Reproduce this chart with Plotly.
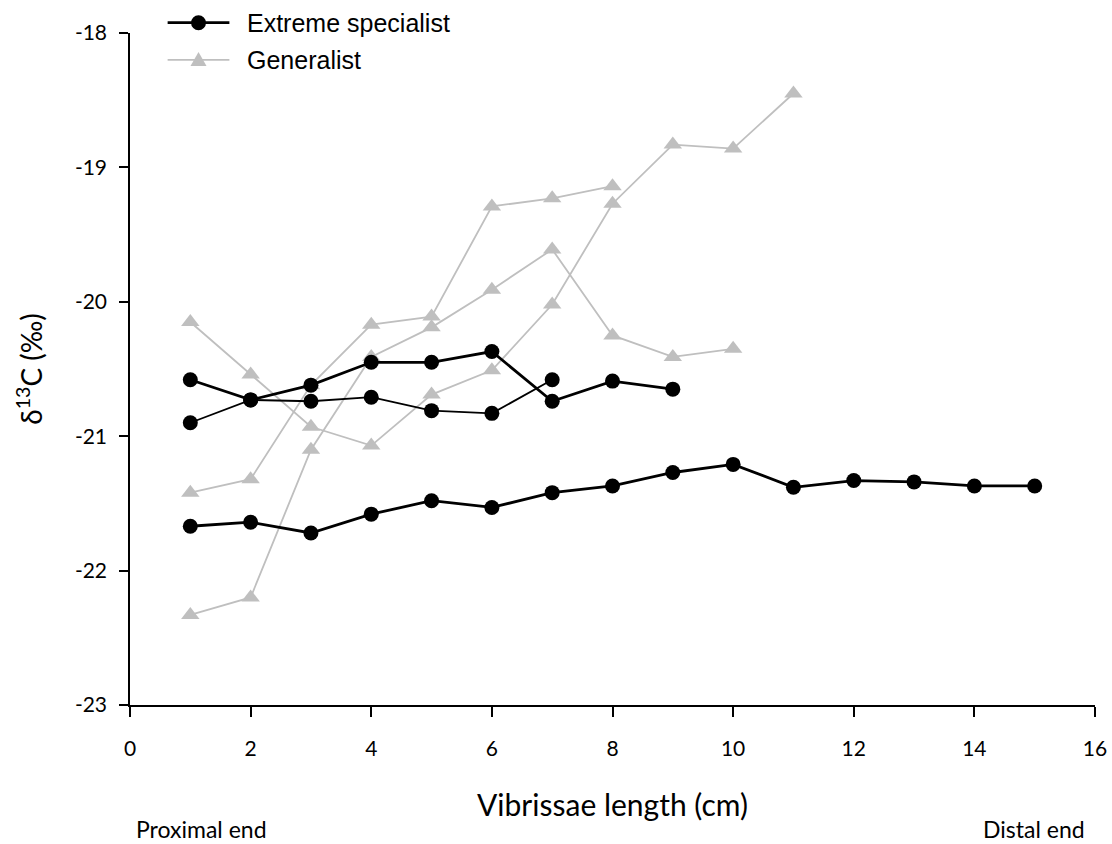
import plotly.graph_objects as go

# Vibrissa segment positions (cm from the skin) and δ13C values per individual
spec_long_x = list(range(1, 16))
spec_long_y = [-21.67, -21.64, -21.72, -21.58, -21.48, -21.53, -21.42, -21.37,
               -21.27, -21.21, -21.38, -21.33, -21.34, -21.37, -21.37]

spec_a_x = list(range(1, 10))
spec_a_y = [-20.58, -20.73, -20.62, -20.45, -20.45, -20.37, -20.74, -20.59, -20.65]

spec_b_x = list(range(1, 8))
spec_b_y = [-20.90, -20.73, -20.74, -20.71, -20.81, -20.83, -20.58]

gen_a_x = list(range(1, 12))
gen_a_y = [-20.15, -20.54, -20.93, -21.07, -20.69, -20.51, -20.02, -19.27,
           -18.83, -18.86, -18.45]

gen_b_x = list(range(1, 9))
gen_b_y = [-21.42, -21.32, -20.62, -20.17, -20.11, -19.29, -19.23, -19.14]

gen_c_x = list(range(1, 11))
gen_c_y = [-22.33, -22.20, -21.10, -20.41, -20.19, -19.91, -19.61, -20.25,
           -20.41, -20.35]

x_ticks = [0, 2, 4, 6, 8, 10, 12, 14, 16]
y_ticks = [-23, -22, -21, -20, -19, -18]

group_names = ["Extreme specialist", "Generalist"]

BLACK = "#000000"
GREY = "#BFBFBF"
TICK_FONT = "Lato, Carlito, Calibri, sans-serif"
KEY_FONT = "Liberation Sans, Arial, sans-serif"

fig = go.Figure()

# generalists first so specialists sit on top
gen_series = [(gen_a_x, gen_a_y), (gen_b_x, gen_b_y), (gen_c_x, gen_c_y)]
for xs, ys in gen_series:
    fig.add_trace(go.Scatter(
        x=xs, y=ys, mode="lines+markers", name=group_names[1],
        line=dict(color=GREY, width=1.8),
        marker=dict(symbol="triangle-up", size=16, color=GREY),
    ))

spec_series = [(spec_long_x, spec_long_y, 2.8), (spec_a_x, spec_a_y, 2.8),
               (spec_b_x, spec_b_y, 1.8)]
for xs, ys, w in spec_series:
    fig.add_trace(go.Scatter(
        x=xs, y=ys, mode="lines+markers", name=group_names[0],
        line=dict(color=BLACK, width=w),
        marker=dict(symbol="circle", size=15, color=BLACK),
    ))

fig.update_layout(
    width=1112, height=844,
    margin=dict(l=130, r=17, t=33, b=139),
    paper_bgcolor="white", plot_bgcolor="white",
    showlegend=False,
    xaxis=dict(
        range=[0, 16], tickvals=x_ticks, ticktext=[str(v) for v in x_ticks],
        showline=True, linecolor="black", linewidth=1.5, mirror=False,
        ticks="outside", ticklen=10, tickwidth=1.5, tickcolor="black",
        ticklabelstandoff=14, automargin=False,
        showgrid=False, zeroline=False,
        tickfont=dict(family=TICK_FONT, size=21, color="black"),
        title=dict(text="Vibrissae length (cm)", standoff=36,
                   font=dict(family=TICK_FONT, size=30, color="black")),
    ),
    yaxis=dict(
        range=[-23, -18], tickvals=y_ticks, ticktext=[str(v) for v in y_ticks],
        showline=True, linecolor="black", linewidth=1.5, mirror=False,
        ticks="outside", ticklen=9, tickwidth=1.5, tickcolor="black",
        ticklabelstandoff=8, automargin=False,
        showgrid=False, zeroline=False,
        tickfont=dict(family=TICK_FONT, size=21, color="black"),
        title=dict(text="δ<sup>13</sup>C (‰)", standoff=24,
                   font=dict(family=TICK_FONT, size=28, color="black")),
    ),
)

# Key above the top-left corner of the plot area (paper units)
key_x0, key_x1, key_text_x = 0.039, 0.103, 0.119
key_rows = [
    (group_names[0], 1.0153, BLACK, 2.8, "circle"),
    (group_names[1], 0.9600, GREY, 1.8, "triangle"),
]
for label, ky, color, lw, sym in key_rows:
    fig.add_shape(type="line", xref="paper", yref="paper",
                  x0=key_x0, x1=key_x1, y0=ky, y1=ky,
                  line=dict(color=color, width=lw))
    xm = (key_x0 + key_x1) / 2
    if sym == "circle":
        fig.add_shape(type="circle", xref="paper", yref="paper",
                      xsizemode="pixel", ysizemode="pixel",
                      xanchor=xm, yanchor=ky,
                      x0=-7.5, x1=7.5, y0=-7.5, y1=7.5,
                      fillcolor=color, line=dict(color=color, width=0))
    else:
        fig.add_shape(type="path", xref="paper", yref="paper",
                      xsizemode="pixel", ysizemode="pixel",
                      xanchor=xm, yanchor=ky,
                      path="M-8,-6 L8,-6 L0,8 Z",
                      fillcolor=color, line=dict(color=color, width=0))
    fig.add_annotation(text=label, xref="paper", yref="paper",
                       x=key_text_x, y=ky, xanchor="left", yanchor="middle",
                       showarrow=False,
                       font=dict(family=KEY_FONT, size=25, color="black"))

fig.add_annotation(text="Proximal end", xref="paper", yref="paper",
                   x=0.004, y=-0.16, xanchor="left", yanchor="top",
                   showarrow=False,
                   font=dict(family=TICK_FONT, size=23, color="black"))
fig.add_annotation(text="Distal end", xref="paper", yref="paper",
                   x=0.992, y=-0.16, xanchor="right", yanchor="top",
                   showarrow=False,
                   font=dict(family=TICK_FONT, size=23, color="black"))

fig.write_html("out.html")
